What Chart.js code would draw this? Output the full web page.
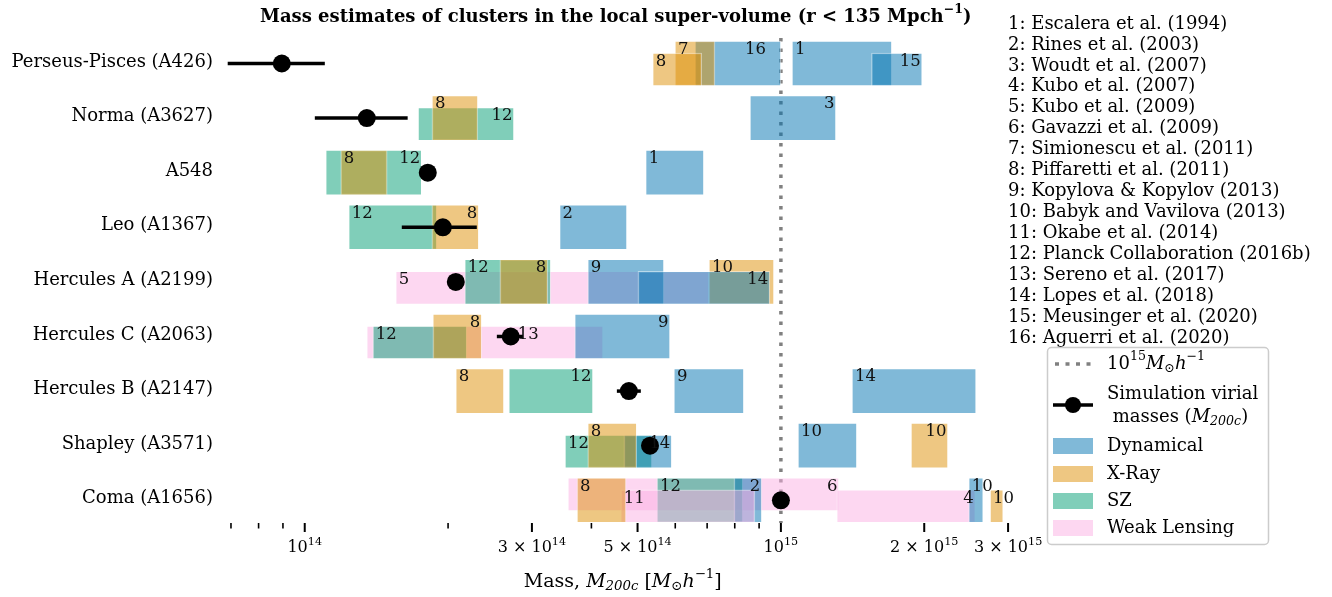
<!DOCTYPE html>
<html>
<head>
<meta charset="utf-8">
<script src="https://cdn.jsdelivr.net/npm/chart.js@4.4.0/dist/chart.umd.min.js"></script>
<style>
  html, body { margin: 0; padding: 0; background: #fff; }
</style>
</head>
<body>
<canvas id="chart" width="1332" height="597"></canvas>
<script>
const clusters = ['Perseus-Pisces (A426)', 'Norma (A3627)', 'A548', 'Leo (A1367)', 'Hercules A (A2199)',
  'Hercules C (A2063)', 'Hercules B (A2147)', 'Shapley (A3571)', 'Coma (A1656)'];

const references = ['Escalera et al. (1994)', 'Rines et al. (2003)', 'Woudt et al. (2007)', 'Kubo et al. (2007)',
  'Kubo et al. (2009)', 'Gavazzi et al. (2009)', 'Simionescu et al. (2011)', 'Piffaretti et al. (2011)',
  'Kopylova & Kopylov (2013)', 'Babyk and Vavilova (2013)', 'Okabe et al. (2014)', 'Planck Collaboration (2016b)',
  'Sereno et al. (2017)', 'Lopes et al. (2018)', 'Meusinger et al. (2020)', 'Aguerri et al. (2020)'];

const methods = ['Dynamical', 'X-Ray', 'SZ', 'Weak Lensing'];

// one entry per bar, listed in drawing order (later bars sit on top)
const barCluster = [0, 0, 0, 0, 0,  1, 1, 1,  2, 2, 2,  3, 3, 3,  4, 4, 4, 4, 4, 4,  5, 5, 5, 5,  6, 6, 6, 6,  7, 7, 7, 7, 7,  8, 8, 8, 8, 8, 8, 8, 8];
const barRef     = [16, 7, 8, 1, 15,  12, 8, 3,  12, 8, 1,  12, 8, 2,  5, 12, 8, 9, 10, 14,  13, 12, 8, 9,  8, 12, 9, 14,  12, 14, 8, 10, 10,  6, 12, 2, 11, 8, 4, 10, 10];
// 0 Dynamical, 1 X-Ray, 2 SZ, 3 Weak Lensing
const barMethod  = [0, 1, 1, 0, 0,  2, 1, 0,  2, 1, 0,  2, 1, 0,  3, 2, 1, 0, 1, 0,  3, 2, 1, 0,  1, 2, 0, 0,  2, 0, 1, 0, 1,  3, 2, 0, 3, 1, 3, 0, 1];
const barLow  = [6.60e14, 5.99e14, 5.38e14, 1.055e15, 1.55e15,
  1.73e14, 1.85e14, 8.61e14,
  1.107e14, 1.19e14, 5.20e14,
  1.237e14, 1.849e14, 3.43e14,
  1.553e14, 2.168e14, 2.569e14, 3.93e14, 7.06e14, 5.01e14,
  1.35e14, 1.39e14, 1.858e14, 3.69e14,
  2.076e14, 2.683e14, 5.96e14, 1.41e15,
  3.52e14, 4.68e14, 3.93e14, 1.086e15, 1.876e15,
  3.57e14, 5.49e14, 7.97e14, 4.61e14, 3.73e14, 1.31e15, 2.48e15, 2.75e15];
const barHigh = [1.0e15, 7.27e14, 6.82e14, 1.71e15, 1.98e15,
  2.75e14, 2.31e14, 1.305e15,
  1.76e14, 1.49e14, 6.89e14,
  1.894e14, 2.32e14, 4.75e14,
  7.06e14, 3.287e14, 3.239e14, 5.68e14, 9.67e14, 9.48e14,
  4.23e14, 2.19e14, 2.354e14, 5.85e14,
  2.62e14, 4.03e14, 8.36e14, 2.57e15,
  5.36e14, 5.90e14, 4.98e14, 1.444e15, 2.243e15,
  1.324e15, 8.32e14, 9.12e14, 8.82e14, 4.73e14, 2.56e15, 2.66e15, 2.93e15];

// simulation virial masses with their spread
const simMass = [0.895e14, 1.35e14, 1.813e14, 1.95e14, 2.076e14, 2.708e14, 4.794e14, 5.31e14, 1.0e15];
const simLow  = [0.689e14, 1.05e14, 1.80e14, 1.599e14, 2.06e14, 2.532e14, 4.524e14, 5.25e14, 0.99e15];
const simHigh = [1.102e14, 1.645e14, 1.83e14, 2.298e14, 2.09e14, 2.871e14, 5.08e14, 5.40e14, 1.01e15];

const majorTicks = [1e14, 3e14, 5e14, 1e15, 2e15, 3e15];
const majorLabels = [['1', 14], ['3', 14], ['5', 14], ['1', 15], ['2', 15], ['3', 15]];
const minorTicks = [7e13, 8e13, 9e13, 2e14, 4e14, 6e14, 7e14, 8e14, 9e14];

// styles, kept apart from the values
const barLevel = ['full', 'full', 'lower', 'full', 'lower',  'lower', 'full', 'full',  'full', 'full', 'full',
  'full', 'full', 'full',  'lower', 'full', 'full', 'full', 'full', 'lower',  'lower', 'lower', 'full', 'full',
  'full', 'full', 'full', 'full',  'lower', 'lower', 'full', 'full', 'full',
  'upper', 'full', 'full', 'lower', 'full', 'lower', 'full', 'lower'];
const labelSide = ['r', 'l', 'l', 'l', 'r',  'r', 'l', 'r',  'r', 'l', 'l',  'l', 'r', 'l',  'l', 'l', 'r', 'l', 'l', 'r',
  'l', 'l', 'r', 'r',  'l', 'r', 'l', 'l',  'l', 'r', 'l', 'l', 'r',  'r', 'l', 'r', 'l', 'l', 'r', 'l', 'l'];
const labelAt = { 0: 9.3e14, 20: 2.8e14 };

const LEVEL_OFF = { full: 0.027, lower: 0.137, upper: -0.082 };
const LEVEL_H = { full: 45, lower: 33, upper: 33 };
const methodRGB = ['1,115,178', '222,143,5', '2,158,115', '251,175,228'];
const FONT = "'DejaVu Serif', serif";

function rich(ctx, parts, x, y, size, align, bold) {
  const w = bold ? 'bold ' : '';
  const segs = parts.map(([t, f = '']) => {
    const small = f.includes('b') || f.includes('p');
    const fs = small ? size * 0.7 : size;
    const font = (f.includes('i') ? 'italic ' : '') + w + fs + 'px ' + FONT;
    ctx.font = font;
    return { t, font, w: ctx.measureText(t).width, dy: f.includes('p') ? -size * 0.38 : (f.includes('b') ? size * 0.25 : 0) };
  });
  const total = segs.reduce((a, s) => a + s.w, 0);
  let cx = align === 'center' ? x - total / 2 : (align === 'right' ? x - total : x);
  ctx.textAlign = 'left';
  ctx.textBaseline = 'middle';
  segs.forEach(s => { ctx.font = s.font; ctx.fillText(s.t, cx, y + s.dy); cx += s.w; });
}

const barSets = barRef.map((ref, k) => ({
  type: 'bar',
  indexAxis: 'y',
  stack: 'all',
  order: -k,
  data: [{ x: [barLow[k], barHigh[k]], y: barCluster[k] + LEVEL_OFF[barLevel[k]] }],
  backgroundColor: 'rgba(' + methodRGB[barMethod[k]] + ',0.5)',
  borderColor: 'rgba(255,255,255,0.45)',
  borderWidth: 1,
  borderSkipped: false,
  barThickness: LEVEL_H[barLevel[k]]
}));

const simSet = {
  type: 'scatter',
  order: -1000,
  data: simMass.map((m, i) => ({ x: m, y: i + LEVEL_OFF.full })),
  pointRadius: 9,
  pointHoverRadius: 9,
  backgroundColor: '#000',
  borderWidth: 0
};

const extras = {
  id: 'extras',
  beforeDatasetsDraw(chart) {
    const { ctx, chartArea, scales } = chart;
    const x = scales.x.getPixelForValue(1e15);
    ctx.save();
    ctx.strokeStyle = '#808080';
    ctx.lineWidth = 3.5;
    ctx.setLineDash([3.5, 7]);
    ctx.beginPath();
    ctx.moveTo(x, chartArea.top);
    ctx.lineTo(x, chartArea.bottom);
    ctx.stroke();
    ctx.restore();
  },
  afterDatasetsDraw(chart) {
    const { ctx, chartArea, scales } = chart;
    const xs = scales.x, ys = scales.y;
    ctx.save();
    // bar reference numbers
    ctx.fillStyle = '#111';
    ctx.font = '16.5px ' + FONT;
    ctx.textBaseline = 'middle';
    barRef.forEach((ref, k) => {
      const el = chart.getDatasetMeta(k).data[0];
      const p = el.getProps(['x', 'base', 'y', 'height'], true);
      const left = Math.min(p.x, p.base), right = Math.max(p.x, p.base);
      const top = p.y - p.height / 2;
      const at = labelAt[k] !== undefined ? xs.getPixelForValue(labelAt[k]) : null;
      if (labelSide[k] === 'l') {
        ctx.textAlign = 'left';
        ctx.fillText(String(ref), at !== null ? at : left + 3, top + 8.5);
      } else {
        ctx.textAlign = 'right';
        ctx.fillText(String(ref), at !== null ? at : right - 1.5, top + 8.5);
      }
    });
    // error bars of the simulation masses
    ctx.strokeStyle = '#000';
    ctx.lineWidth = 3.5;
    simMass.forEach((m, i) => {
      const y = ys.getPixelForValue(i + LEVEL_OFF.full);
      ctx.beginPath();
      ctx.moveTo(xs.getPixelForValue(simLow[i]), y);
      ctx.lineTo(xs.getPixelForValue(simHigh[i]), y);
      ctx.stroke();
    });
    // x tick marks and labels
    const b = chartArea.bottom;
    ctx.lineWidth = 2;
    majorTicks.forEach(v => {
      const x = xs.getPixelForValue(v);
      ctx.beginPath(); ctx.moveTo(x, b); ctx.lineTo(x, b + 9); ctx.stroke();
    });
    ctx.lineWidth = 1.6;
    minorTicks.forEach(v => {
      const x = xs.getPixelForValue(v);
      ctx.beginPath(); ctx.moveTo(x, b); ctx.lineTo(x, b + 5.5); ctx.stroke();
    });
    ctx.fillStyle = '#000';
    majorTicks.forEach((v, i) => {
      const [mant, exp] = majorLabels[i];
      const base = mant === '1' ? '10' : mant + ' × 10';
      rich(ctx, [[base], [String(exp), 'p']], xs.getPixelForValue(v), b + 25, 16, 'center');
    });
    ctx.restore();
  },
  afterDraw(chart) {
    const { ctx, chartArea } = chart;
    ctx.save();
    ctx.fillStyle = '#000';
    const mid = (chartArea.left + chartArea.right) / 2;
    rich(ctx, [['Mass estimates of clusters in the local super-volume ('], ['r < 135 Mpch'], ['−1', 'p'], [')']],
      mid - 4, 17, 18, 'center', true);
    rich(ctx, [['Mass, '], ['M', 'i'], ['200c', 'ib'], [' ['], ['M', 'i'], ['⊙', 'b'], ['h', 'i'], ['−1', 'p'], [']']],
      mid + 3, 582, 19, 'center');

    // reference list
    ctx.font = '18px ' + FONT;
    ctx.textAlign = 'left';
    ctx.textBaseline = 'middle';
    references.forEach((r, i) => ctx.fillText((i + 1) + ': ' + r, 1008, 24 + i * 20.93));

    // legend
    ctx.beginPath();
    ctx.roundRect(1047.5, 347.5, 221, 197, 4);
    ctx.fillStyle = 'rgba(255,255,255,0.8)';
    ctx.fill();
    ctx.strokeStyle = '#cccccc';
    ctx.lineWidth = 1.5;
    ctx.stroke();

    ctx.strokeStyle = '#808080';
    ctx.lineWidth = 3.5;
    ctx.setLineDash([4, 6.5]);
    ctx.beginPath(); ctx.moveTo(1055, 364); ctx.lineTo(1093, 364); ctx.stroke();
    ctx.setLineDash([]);
    ctx.fillStyle = '#000';
    rich(ctx, [['10'], ['15', 'p'], ['M', 'i'], ['⊙', 'b'], ['h', 'i'], ['−1', 'p']], 1107, 364, 18, 'left');

    ctx.strokeStyle = '#000';
    ctx.beginPath(); ctx.moveTo(1053, 405); ctx.lineTo(1093, 405); ctx.stroke();
    ctx.beginPath(); ctx.arc(1073, 405, 8, 0, Math.PI * 2); ctx.fill();
    ctx.font = '18px ' + FONT;
    ctx.textAlign = 'left';
    ctx.fillText('Simulation virial', 1107, 394);
    rich(ctx, [[' masses ('], ['M', 'i'], ['200c', 'ib'], [')']], 1107, 417, 18, 'left');

    const rows = [446, 474, 501, 528];
    methods.forEach((m, i) => {
      ctx.fillStyle = 'rgba(' + methodRGB[i] + ',0.5)';
      ctx.fillRect(1053, rows[i] - 8, 40, 16);
      ctx.fillStyle = '#000';
      ctx.font = '18px ' + FONT;
      ctx.textAlign = 'left';
      ctx.textBaseline = 'middle';
      ctx.fillText(m, 1107, rows[i]);
    });
    ctx.restore();
  }
};

new Chart(document.getElementById('chart'), {
  type: 'bar',
  data: { datasets: [...barSets, simSet] },
  options: {
    responsive: false,
    animation: false,
    events: [],
    devicePixelRatio: 1,
    layout: { padding: { top: 38, right: 320.5, bottom: 0, left: 0 } },
    plugins: { legend: { display: false }, tooltip: { enabled: false }, title: { display: false } },
    scales: {
      x: {
        type: 'logarithmic',
        axis: 'x',
        min: 6.9e13,
        max: 3.05e15,
        stacked: false,
        offset: false,
        grid: { display: false, drawTicks: false },
        border: { display: false },
        ticks: { display: false },
        afterFit: s => { s.height = 74; }
      },
      y: {
        type: 'linear',
        axis: 'y',
        min: -0.44,
        max: 8.443,
        reverse: true,
        offset: false,
        grid: { display: false, drawTicks: false },
        border: { display: false },
        ticks: {
          autoSkip: false,
          padding: 15,
          color: '#000',
          font: { family: FONT, size: 18 },
          callback: v => clusters[v] !== undefined ? clusters[v] : ''
        },
        afterBuildTicks: s => { s.ticks = clusters.map((c, i) => ({ value: i })); },
        afterFit: s => { s.width = 228; }
      }
    }
  },
  plugins: [extras]
});
</script>
</body>
</html>
